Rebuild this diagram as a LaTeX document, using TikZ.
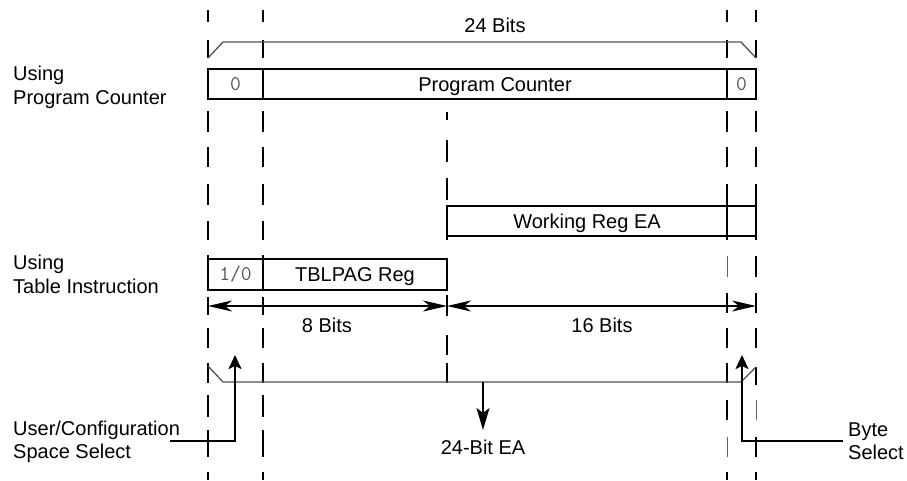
\documentclass[tikz,border=0pt]{standalone}
\usepackage{fontspec}
\setmainfont{Liberation Sans}
\usetikzlibrary{arrows.meta}
\definecolor{txtgray}{HTML}{555555}
\definecolor{brk}{HTML}{505050}
\tikzset{
  dimtip/.tip={Stealth[length=24pt,width=11pt,inset=7pt]},
  uptip/.tip={Stealth[length=14pt,width=13pt,inset=3pt]},
  dntip/.tip={Stealth[length=22pt,width=13pt,inset=5pt]}
}
\begin{document}
\begin{tikzpicture}[x=1pt,y=-1pt,
  every node/.style={inner sep=0pt, text height=14.3pt, text depth=0pt},
  txt/.style={font=\fontsize{20}{24}\selectfont},
  lft/.style={txt, anchor=west},
  mono/.style={font=\fontsize{21}{24}\ttfamily, text=txtgray, text height=13.5pt},
  dsh/.style={line width=2.3pt, black},
  dthin/.style={line width=1pt, black!60},
  boxln/.style={line width=2pt, black},
  brkln/.style={line width=1.3pt, brk},
  arr/.style={line width=2pt, black}
]
\useasboundingbox (0,0) rectangle (907,480);

% dashed columns
\foreach \x in {208,263}{
  \foreach \a/\b in {10/22,40/58,111/132,147/167,184/205,221/240,255/259,297/315,328/348,363/383,395/417,430/457,472/480}
    \draw[dsh] (\x,\a) -- (\x,\b);
}
\foreach \a/\b in {10/22,40/58,111/132,147/167,184/205,236/240,293/313,328/348,363/383,400/420,472/480}
  \draw[dsh] (727,\a) -- (727,\b);
\foreach \a/\b in {256/277,437/457}
  \draw[dthin] (727,\a) -- (727,\b);
\foreach \a/\b in {10/22,40/58,111/132,147/167,184/205,236/240,256/277,293/313,328/348,367/385,437/457,472/480}
  \draw[dsh] (756,\a) -- (756,\b);
\foreach \a/\b in {400/420}
  \draw[dthin] (756,\a) -- (756,\b);
\foreach \a/\b in {112/120,140/162,178/200,236/240,295/316,335/355,363/383}
  \draw[dsh] (447,\a) -- (447,\b);

% 24 bits bracket
\draw[brkln] (208,58) -- (223,42) -- (741,42) -- (756,58);
\node[txt] (bits24) at (495,25) {24 Bits};

% Program counter row
\draw[boxln] (208,69) rectangle (756,99);
\draw[boxln] (263,69) -- (263,99);
\draw[boxln] (727,69) -- (727,99);
\node[mono] (zl) at (235.5,84) {0};
\node[txt] (pc) at (495,84) {Program Counter};
\node[mono] (zr) at (741.5,84) {0};

% Working reg row
\draw[boxln] (447,206) rectangle (756,236);
\draw[boxln] (727,206) -- (727,236);
\node[txt] (wr) at (587,221) {Working Reg EA};

% TBLPAG row
\draw[boxln] (208,259) rectangle (447,290);
\draw[boxln] (263,259) -- (263,290);
\node[mono] (one) at (235.5,274) {1/0};
\node[txt] (tbl) at (355,274) {TBLPAG Reg};

% dimension arrows
\coordinate (d0) at (208,306);
\coordinate (d1) at (447,306);
\coordinate (d2) at (756,306);
\draw[arr, {dimtip}-{dimtip}] (d0) -- (d1);
\draw[arr, {dimtip}-{dimtip}] (d1) -- (d2);
\node[txt] (b8) at (327,325) {8 Bits};
\node[txt] (b16) at (602,325) {16 Bits};

% 24-bit EA bracket
\draw[brkln] (208,366) -- (223,382) -- (741,382) -- (756,367);
\coordinate (eatop) at (483,382);
\coordinate (eatip) at (483,430);
\draw[arr, -{dntip}] (eatop) -- (eatip);
\node[txt] (ea) at (483,447) {24-Bit EA};

% selects
\coordinate (us0) at (170,441);
\coordinate (us1) at (235,355);
\draw[arr, -{uptip}] (us0) -| (us1);
\coordinate (bs0) at (843,441);
\coordinate (bs1) at (742,355);
\draw[arr, -{uptip}] (bs0) -| (bs1);

% left labels
\node[lft] (u1) at (13,73) {Using};
\node[lft] (u2) at (13,97) {Program Counter};
\node[lft] (t1) at (13,262) {Using};
\node[lft] (t2) at (13,286) {Table Instruction};
\node[lft] (s1) at (13,428) {User/Configuration};
\node[lft] (s2) at (13,451) {Space Select};
\node[lft] (y1) at (848,429) {Byte};
\node[lft] (y2) at (848,452) {Select};
\end{tikzpicture}
\end{document}
